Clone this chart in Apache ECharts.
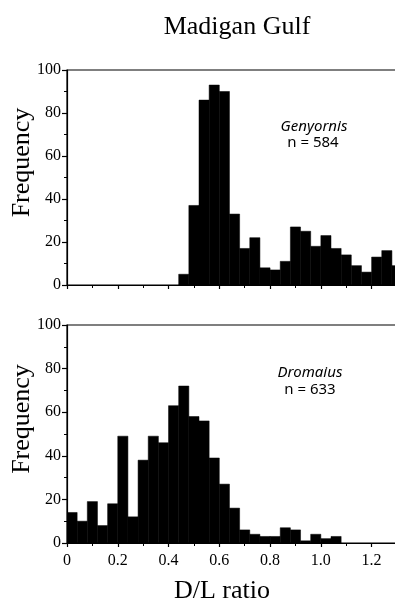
<!DOCTYPE html>
<html>
<head>
<meta charset="utf-8">
<script src="https://cdn.jsdelivr.net/npm/echarts@6/dist/echarts.min.js"></script>
<style>
  html, body { margin: 0; padding: 0; background: #fff; }
  #chart { width: 395px; height: 604px; }
</style>
</head>
<body>
<div id="chart"></div>
<script>
// Histogram bin width (D/L ratio units)
var binWidth = 0.04;

// Genyornis: lower edges of bins and counts
var genyornisEdges = [0.44, 0.48, 0.52, 0.56, 0.60, 0.64, 0.68, 0.72, 0.76, 0.80, 0.84,
                      0.88, 0.92, 0.96, 1.00, 1.04, 1.08, 1.12, 1.16, 1.20, 1.24, 1.28];
var genyornisCounts = [5, 37, 86, 93, 90, 33, 17, 22, 8, 7, 11,
                       27, 25, 18, 23, 17, 14, 9, 6, 13, 16, 9];

// Dromaius: lower edges of bins and counts
var dromaiusEdges = [0.00, 0.04, 0.08, 0.12, 0.16, 0.20, 0.24, 0.28, 0.32, 0.36, 0.40,
                     0.44, 0.48, 0.52, 0.56, 0.60, 0.64, 0.68, 0.72, 0.76, 0.80, 0.84,
                     0.88, 0.92, 0.96, 1.00, 1.04];
var dromaiusCounts = [14, 10, 19, 8, 18, 49, 12, 38, 49, 46, 63,
                      72, 58, 56, 39, 27, 16, 6, 4, 3, 3, 7,
                      6, 1, 4, 2, 3];

var yTicks = [0, 20, 40, 60, 80, 100];
var xTicks = [0, 0.2, 0.4, 0.6, 0.8, 1.0, 1.2];

function toBins(edges, counts) {
  return edges.map(function (e, i) { return [e, e + binWidth, counts[i]]; });
}

function renderBar(params, api) {
  var p0 = api.coord([api.value(0), api.value(2)]);
  var p1 = api.coord([api.value(1), 0]);
  return {
    type: 'rect',
    shape: { x: p0[0], y: p0[1], width: p1[0] - p0[0], height: p1[1] - p0[1] },
    style: { fill: '#000', stroke: '#000', lineWidth: 0.5 }
  };
}

var serif = 'Liberation Serif, Times New Roman, serif';
var lineStyle = { color: '#000', width: 1.2 };

function xAxisCfg(idx, showLabels) {
  return {
    gridIndex: idx, type: 'value', min: 0, max: 1.3, interval: 0.2,
    axisLine: { show: true, onZero: false, lineStyle: lineStyle },
    axisTick: { show: true, length: 4, lineStyle: lineStyle },
    minorTick: { show: true, splitNumber: 2, length: 3, lineStyle: { color: '#000', width: 1 } },
    splitLine: { show: false },
    axisLabel: {
      show: showLabels, showMaxLabel: false, margin: 10,
      fontFamily: serif, fontSize: 16, color: '#000',
      formatter: function (v) {
        if (xTicks.indexOf(Math.round(v * 10) / 10) < 0) return '';
        return v === 0 ? '0' : v.toFixed(1);
      }
    }
  };
}

function yAxisCfg(idx) {
  return {
    gridIndex: idx, type: 'value', min: yTicks[0], max: yTicks[yTicks.length - 1], interval: 20,
    name: 'Frequency', nameLocation: 'middle', nameGap: 32, nameRotate: 90, nameMoveOverlap: false,
    nameTextStyle: { fontFamily: serif, fontSize: 26, color: '#000', padding: [0, 0, 0, 30] },
    axisLine: { show: true, lineStyle: lineStyle },
    axisTick: { show: true, length: 5, lineStyle: lineStyle },
    minorTick: { show: true, splitNumber: 2, length: 3, lineStyle: { color: '#000', width: 1 } },
    splitLine: { show: false },
    axisLabel: { fontFamily: serif, fontSize: 16, color: '#000', margin: 6 }
  };
}

var annotFont = '"Noto Sans", sans-serif';

var chart = echarts.init(document.getElementById('chart'), null, { renderer: 'canvas' });
chart.setOption({
  animation: false,
  backgroundColor: '#fff',
  title: [
    { text: 'Madigan Gulf', left: 232, top: 9, textAlign: 'center',
      textStyle: { fontFamily: serif, fontSize: 26, fontWeight: 'normal', color: '#000' } },
    { text: 'D/L ratio', left: 217, top: 573, textAlign: 'center',
      textStyle: { fontFamily: serif, fontSize: 26, fontWeight: 'normal', color: '#000' } }
  ],
  grid: [
    { left: 67, right: -2, top: 70, height: 215, show: true, borderColor: '#000', borderWidth: 1.2,
      containLabel: false, outerBoundsMode: 'none' },
    { left: 67, right: -2, top: 325, height: 218, show: true, borderColor: '#000', borderWidth: 1.2,
      containLabel: false, outerBoundsMode: 'none' }
  ],
  xAxis: [xAxisCfg(0, false), xAxisCfg(1, true)],
  yAxis: [yAxisCfg(0), yAxisCfg(1)],
  graphic: [
    { type: 'text', x: 314, y: 127, style: { text: 'Genyornis', font: 'italic 15px ' + annotFont, fill: '#000', align: 'center', verticalAlign: 'middle' } },
    { type: 'text', x: 313, y: 143, style: { text: 'n = 584', font: '15px ' + annotFont, fill: '#000', align: 'center', verticalAlign: 'middle' } },
    { type: 'text', x: 310, y: 373, style: { text: 'Dromaius', font: 'italic 15px ' + annotFont, fill: '#000', align: 'center', verticalAlign: 'middle' } },
    { type: 'text', x: 310, y: 390, style: { text: 'n = 633', font: '15px ' + annotFont, fill: '#000', align: 'center', verticalAlign: 'middle' } }
  ],
  series: [
    { type: 'custom', xAxisIndex: 0, yAxisIndex: 0, clip: true, renderItem: renderBar,
      encode: { x: [0, 1], y: 2 }, data: toBins(genyornisEdges, genyornisCounts) },
    { type: 'custom', xAxisIndex: 1, yAxisIndex: 1, clip: true, renderItem: renderBar,
      encode: { x: [0, 1], y: 2 }, data: toBins(dromaiusEdges, dromaiusCounts) }
  ]
});
</script>
</body>
</html>
